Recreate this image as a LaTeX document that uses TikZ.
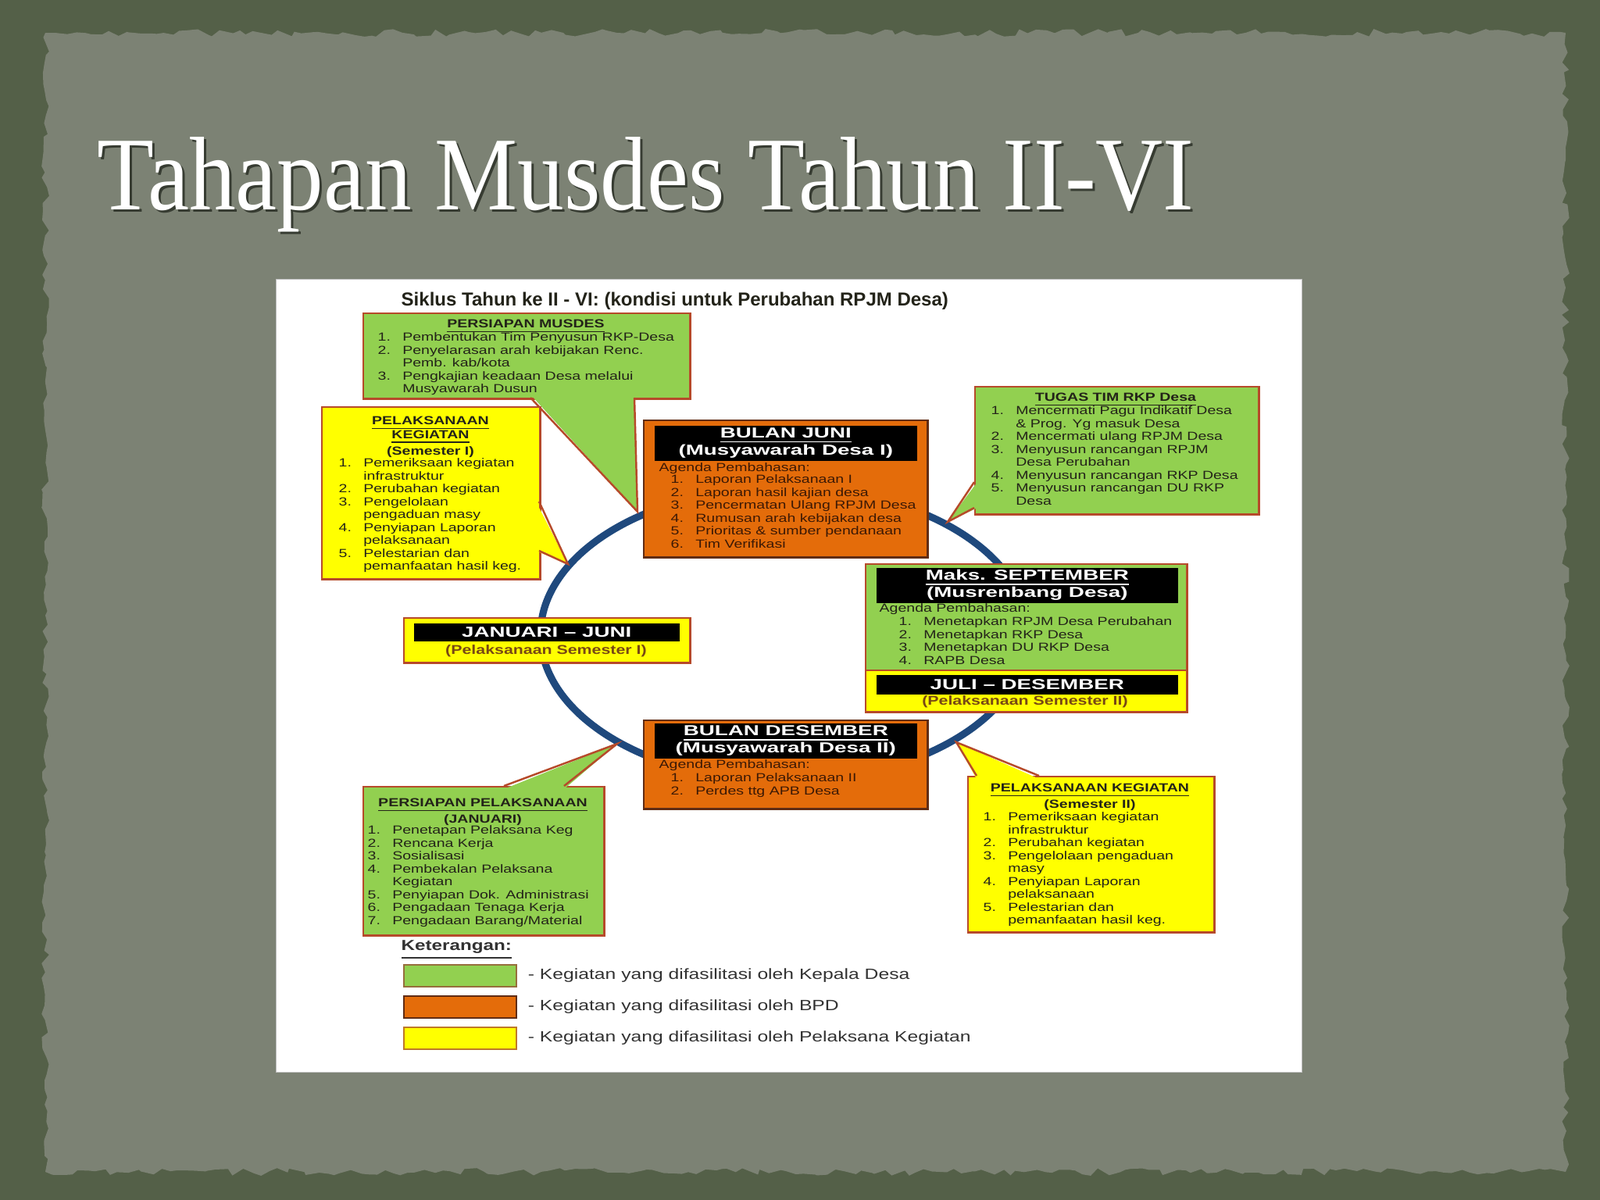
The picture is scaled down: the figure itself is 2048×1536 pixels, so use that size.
\documentclass[tikz,border=0pt]{standalone}
\usepackage{fontspec}
\setmainfont{Liberation Sans}
\newfontfamily\titlefont[FakeStretch=0.89]{Liberation Serif}
\newfontfamily\boxfont[FakeStretch=1.3]{Liberation Sans}
\newfontfamily\hdfont[FakeStretch=1.5]{Liberation Sans}
\usetikzlibrary{positioning, calc, decorations.pathmorphing}
\definecolor{frame}{RGB}{84,96,72}
\definecolor{paper}{RGB}{124,130,116}
\definecolor{shade}{RGB}{55,60,50}
\definecolor{boxgreen}{RGB}{146,208,80}
\definecolor{boxorange}{RGB}{228,108,10}
\definecolor{boxyellow}{RGB}{255,255,0}
\definecolor{edgered}{RGB}{182,74,42}
\definecolor{edgedark}{RGB}{96,44,20}
\definecolor{keyedgeg}{RGB}{150,110,60}
\definecolor{keyedgey}{RGB}{190,120,40}
\definecolor{ringblue}{RGB}{31,73,125}
\definecolor{inkdark}{RGB}{35,35,25}
\definecolor{inkdeep}{RGB}{60,25,5}
\definecolor{inkbrown}{RGB}{120,72,20}
\definecolor{inkgray}{RGB}{50,50,50}
\newcommand{\boxtext}{\boxfont\fontsize{4.27}{4.69}\selectfont}
\newcommand{\boxbold}{\boxfont\bfseries\fontsize{4.27}{5.1}\selectfont}
\newcommand{\notebold}{\boxfont\bfseries\fontsize{4.67}{5.2}\selectfont}
\newcommand{\hdbold}{\hdfont\bfseries\fontsize{5.26}{6.26}\selectfont}
\newcommand{\keytext}{\boxfont\fontsize{5.4}{6}\selectfont}
\newcommand{\keybold}{\boxfont\bfseries\fontsize{5.3}{6}\selectfont}
\newcommand{\nb}[1]{\makebox[9pt][l]{#1}}

\begin{document}
\begin{tikzpicture}[x=0.01cm, y=-0.01cm,
  box/.style={draw=edgered, line width=0.7pt, inner sep=0pt, anchor=north west},
  gbox/.style={box, fill=boxgreen},
  ybox/.style={box, fill=boxyellow},
  obox/.style={box, fill=boxorange, draw=edgedark},
  band/.style={fill=black, inner sep=0pt, anchor=north west, text=white, font=\hdbold, align=center},
  boxtitle/.style={inner sep=0pt, anchor=north, align=center, font=\boxbold, text=inkdark},
  itemlist/.style={inner sep=0pt, anchor=north west, align=left, font=\boxtext, text=inkdark},
  semnote/.style={inner sep=0pt, font=\notebold, text=inkbrown},
  tail/.style={draw=edgered, line width=0.7pt, line join=miter},
  keybox/.style={line width=0.6pt, minimum width=1.44cm, minimum height=0.28cm, inner sep=0pt, anchor=north west}
]
  \useasboundingbox (0,0) rectangle (2048,1536);
  \fill[frame] (0,0) rectangle (2048,1536);
  \fill[paper, decorate, decoration={random steps, segment length=3pt, amplitude=1.4pt}] (58,42) rectangle (2004,1500);

  \node[anchor=base west, inner sep=0pt, text=shade, font=\titlefont\fontsize{38.1}{40}\selectfont] (titleS) at (127,271) {Tahapan Musdes Tahun II-VI};
  \node[anchor=base west, inner sep=0pt, text=white, font=\titlefont\fontsize{38.1}{40}\selectfont] (title) at (124,268) {Tahapan Musdes Tahun II-VI};

  \node[fill=white, draw=black!25, line width=0.4pt, inner sep=0pt, minimum width=13.12cm, minimum height=10.14cm, anchor=north west] (panel) at (353,357) {};
  \node[anchor=base west, inner sep=0pt, text=inkdark, font=\bfseries\fontsize{6.83}{8}\selectfont] (siklus) at (513,391) {Siklus Tahun ke II - VI: (kondisi untuk Perubahan RPJM Desa)};

  \draw[ringblue, line width=2.6pt] (1004,812) ellipse [x radius=3.12cm, y radius=1.88cm];

  % persiapan musdes
  \node[gbox, minimum width=4.18cm, minimum height=1.09cm] (musdes) at (464,400) {};
  \node[boxtitle] (musdesT) at (673,408) {\underline{PERSIAPAN MUSDES}};
  \node[itemlist] (musdesL) at (483,425) {\nb{1.}Pembentukan Tim Penyusun RKP-Desa\\ \nb{2.}Penyelarasan arah kebijakan Renc.\\ \nb{}Pemb. kab/kota\\ \nb{3.}Pengkajian keadaan Desa melalui\\ \nb{}Musyawarah Dusun};
  \fill[boxgreen] (679,505) -- (816,655) -- (812,505) -- cycle;
  \draw[tail] (679,509) -- (816,655) -- (812,509);

  % semester I
  \node[ybox, minimum width=2.79cm, minimum height=2.2cm] (semI) at (411,520) {};
  \node[boxtitle] (semIT) at (551,532) {\underline{PELAKSANAAN}\\\underline{KEGIATAN}\\(Semester I)};
  \node[itemlist] (semIL) at (433,586) {\nb{1.}Pemeriksaan kegiatan\\ \nb{}infrastruktur\\ \nb{2.}Perubahan kegiatan\\ \nb{3.}Pengelolaan\\ \nb{}pengaduan masy\\ \nb{4.}Penyiapan Laporan\\ \nb{}pelaksanaan\\ \nb{5.}Pelestarian dan\\ \nb{}pemanfaatan hasil keg.};
  \fill[boxyellow] (686,642) -- (727,722) -- (686,705) -- cycle;
  \draw[tail] (690,642) -- (727,722) -- (690,705);

  % bulan juni
  \node[obox, minimum width=3.63cm, minimum height=1.75cm] (juni) at (823,537) {};
  \node[band, minimum width=3.36cm, minimum height=0.45cm] (juniH) at (837,544) {\underline{BULAN JUNI}\\(Musyawarah Desa I)};
  \node[itemlist, text=inkdeep] (juniA) at (843,592) {Agenda Pembahasan:};
  \node[itemlist, text=inkdeep] (juniL) at (858,607) {\nb{1.}Laporan Pelaksanaan I\\ \nb{2.}Laporan hasil kajian desa\\ \nb{3.}Pencermatan Ulang RPJM Desa\\ \nb{4.}Rumusan arah kebijakan desa\\ \nb{5.}Prioritas \& sumber pendanaan\\ \nb{6.}Tim Verifikasi};

  % tugas tim
  \node[gbox, minimum width=3.63cm, minimum height=1.63cm] (tugas) at (1247,494) {};
  \node[boxtitle] (tugasT) at (1428,502) {\underline{TUGAS TIM RKP Desa}};
  \node[itemlist] (tugasL) at (1268,519) {\nb{1.}Mencermati Pagu Indikatif Desa\\ \nb{}\& Prog. Yg masuk Desa\\ \nb{2.}Mencermati ulang RPJM Desa\\ \nb{3.}Menyusun rancangan RPJM\\ \nb{}Desa Perubahan\\ \nb{4.}Menyusun rancangan RKP Desa\\ \nb{5.}Menyusun rancangan DU RKP\\ \nb{}Desa};
  \fill[boxgreen] (1251,617) -- (1213,668) -- (1251,650) -- cycle;
  \draw[tail] (1247,617) -- (1213,668) -- (1247,650);

  % musrenbang
  \node[gbox, minimum width=4.11cm, minimum height=1.36cm] (sept) at (1107,721) {};
  \node[band, minimum width=3.86cm, minimum height=0.45cm] (septH) at (1121,726) {\underline{Maks. SEPTEMBER}\\(Musrenbang Desa)};
  \node[itemlist] (septA) at (1125,772) {Agenda Pembahasan:};
  \node[itemlist] (septL) at (1150,789) {\nb{1.}Menetapkan RPJM Desa Perubahan\\ \nb{2.}Menetapkan RKP Desa\\ \nb{3.}Menetapkan DU RKP Desa\\ \nb{4.}RAPB Desa};
  \node[ybox, minimum width=4.11cm, minimum height=0.53cm] (julides) at (1107,857) {};
  \node[band, minimum width=3.86cm, minimum height=0.25cm] (julidesH) at (1121,863) {JULI – DESEMBER};
  \node[semnote] (julidesN) at (1312,898) {(Pelaksanaan Semester II)};

  % januari - juni
  \node[ybox, minimum width=3.66cm, minimum height=0.57cm] (janjun) at (516,790) {};
  \node[band, minimum width=3.40cm, minimum height=0.23cm] (janjunH) at (529,797) {JANUARI – JUNI};
  \node[semnote] (janjunN) at (699,833) {(Pelaksanaan Semester I)};

  % bulan desember
  \node[obox, minimum width=3.63cm, minimum height=1.13cm] (des) at (823,921) {};
  \node[band, minimum width=3.36cm, minimum height=0.45cm] (desH) at (837,925) {\underline{BULAN DESEMBER}\\(Musyawarah Desa II)};
  \node[itemlist, text=inkdeep] (desA) at (843,972) {Agenda Pembahasan:};
  \node[itemlist, text=inkdeep] (desL) at (858,989) {\nb{1.}Laporan Pelaksanaan II\\ \nb{2.}Perdes ttg APB Desa};

  % persiapan pelaksanaan
  \node[gbox, minimum width=3.08cm, minimum height=1.9cm] (prep) at (464,1006) {};
  \node[boxtitle] (prepT) at (618,1021) {\underline{PERSIAPAN PELAKSANAAN}\\(JANUARI)};
  \node[itemlist] (prepL) at (470,1056) {\nb{1.}Penetapan Pelaksana Keg\\ \nb{2.}Rencana Kerja\\ \nb{3.}Sosialisasi\\ \nb{4.}Pembekalan Pelaksana\\ \nb{}Kegiatan\\ \nb{5.}Penyiapan Dok. Administrasi\\ \nb{6.}Pengadaan Tenaga Kerja\\ \nb{7.}Pengadaan Barang/Material};
  \fill[boxgreen] (645,1010) -- (790,952) -- (722,1010) -- cycle;
  \draw[tail] (645,1006) -- (790,952) -- (722,1006);

  % semester II
  \node[ybox, minimum width=3.15cm, minimum height=1.99cm] (semII) at (1238,993) {};
  \node[boxtitle] (semIIT) at (1395,1002) {\underline{PELAKSANAAN KEGIATAN}\\(Semester II)};
  \node[itemlist] (semIIL) at (1258,1039) {\nb{1.}Pemeriksaan kegiatan\\ \nb{}infrastruktur\\ \nb{2.}Perubahan kegiatan\\ \nb{3.}Pengelolaan pengaduan\\ \nb{}masy\\ \nb{4.}Penyiapan Laporan\\ \nb{}pelaksanaan\\ \nb{5.}Pelestarian dan\\ \nb{}pemanfaatan hasil keg.};
  \fill[boxyellow] (1250,997) -- (1224,950) -- (1330,997) -- cycle;
  \draw[tail] (1250,993) -- (1224,950) -- (1330,993);

  % keterangan
  \node[inner sep=0pt, anchor=west, font=\keybold, text=inkgray] (ket) at (513,1216) {\underline{Keterangan:}};
  \foreach \c/\e/\lbl [count=\i] in {boxgreen/keyedgeg/Kepala Desa, boxorange/edgedark/BPD, boxyellow/keyedgey/Pelaksana Kegiatan}
  {
    \node[keybox, fill=\c, draw=\e] (key\i) at (516,1234+40*\i-40) {};
    \node[inner sep=0pt, font=\keytext, text=inkgray, right=0.13cm of key\i] (keyT\i) {- Kegiatan yang difasilitasi oleh \lbl};
  }
\end{tikzpicture}
\end{document}
